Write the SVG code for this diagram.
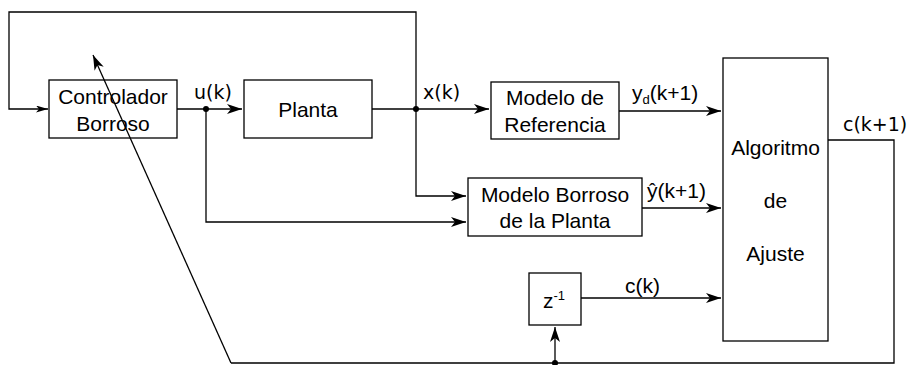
<svg xmlns="http://www.w3.org/2000/svg" width="914" height="365" viewBox="0 0 914 365">
<style>
.box{fill:#fff;stroke:#000;stroke-width:1.3}
.ln{fill:none;stroke:#000;stroke-width:1.3}
.t{font-family:"Liberation Sans",Arial,sans-serif;font-size:21px;fill:#000}
.m{text-anchor:middle}
.d{font-family:"DejaVu Sans",sans-serif;font-size:19px;fill:#000}
</style>
<defs>
<marker id="a" markerUnits="userSpaceOnUse" markerWidth="16" markerHeight="12" refX="15" refY="5" orient="auto">
<path d="M0,0 L15,5 L0,10 L4,5 Z" fill="#000"/>
</marker>
<marker id="s" markerUnits="userSpaceOnUse" markerWidth="13" markerHeight="8" refX="12" refY="3.5" orient="auto">
<path d="M0,0 L12,3.5 L0,7 L3,3.5 Z" fill="#000"/>
</marker>
</defs>
<g id="controlador">
<rect class="box" x="49" y="80" width="128" height="58"/>
<text class="t m" x="113" y="104">Controlador</text>
<text class="t m" x="113" y="131">Borroso</text>
</g>
<g id="planta">
<rect class="box" x="244" y="80" width="128" height="58"/>
<text class="t m" x="308" y="117">Planta</text>
</g>
<g id="modelo-referencia">
<rect class="box" x="491" y="82" width="128" height="57"/>
<text class="t m" x="555" y="105">Modelo de</text>
<text class="t m" x="555" y="132">Referencia</text>
</g>
<g id="modelo-borroso">
<rect class="box" x="468" y="178" width="174" height="58"/>
<text class="t m" x="555" y="202">Modelo Borroso</text>
<text class="t m" x="555" y="228">de la Planta</text>
</g>
<g id="algoritmo">
<rect class="box" x="723" y="58" width="105" height="283"/>
<text class="t m" x="775.5" y="155">Algoritmo</text>
<text class="t m" x="775.5" y="208">de</text>
<text class="t m" x="775.5" y="261">Ajuste</text>
</g>
<g id="retardo">
<rect class="box" x="529" y="273" width="52" height="52"/>
<text class="t" x="543" y="308">z<tspan font-size="13" dy="-8">-1</tspan></text>
</g>
<g id="connectors">
<path class="ln" d="M416,109 V12 H9 V109 H48" marker-end="url(#s)"/>
<path class="ln" d="M177,109 H242" marker-end="url(#a)"/>
<path class="ln" d="M372,109 H489" marker-end="url(#a)"/>
<path class="ln" d="M416,109 V196 H466" marker-end="url(#a)"/>
<path class="ln" d="M206,109 V222 H466" marker-end="url(#a)"/>
<path class="ln" d="M619,111 H721" marker-end="url(#a)"/>
<path class="ln" d="M642,208 H721" marker-end="url(#a)"/>
<path class="ln" d="M581,298 H721" marker-end="url(#a)"/>
<path class="ln" d="M828,140 H894 V363 H231"/>
<path class="ln" d="M231,363 L93,55" marker-end="url(#a)"/>
<path class="ln" d="M555,363 V327" marker-end="url(#a)"/>
<circle cx="206" cy="109" r="3"/>
<circle cx="416" cy="109" r="3"/>
<circle cx="555" cy="363" r="3"/>
<text class="d" x="194" y="99">u(k)</text>
<text class="d" x="423" y="99">x(k)</text>
<text class="d" x="843" y="131" font-size="20">c(k+1)</text>
<text class="t" x="632" y="100">y<tspan font-size="13" dy="4">d</tspan><tspan dy="-4">(k+1)</tspan></text>
<text class="t" x="647" y="198">ŷ(k+1)</text>
<text class="t" x="625" y="293">c(k)</text>
</g>
</svg>
